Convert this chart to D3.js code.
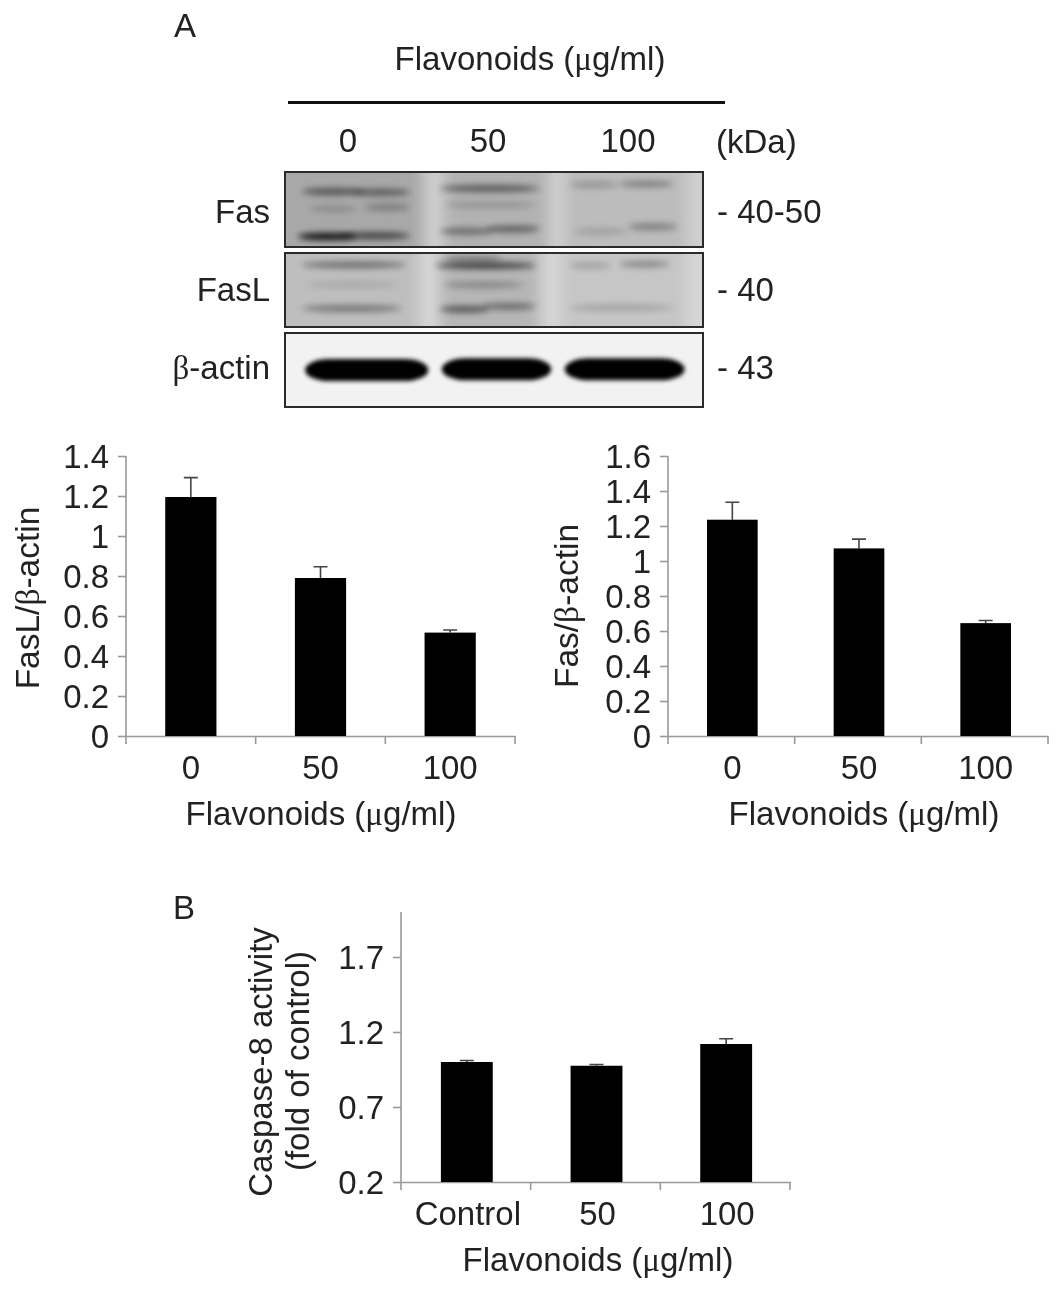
<!DOCTYPE html>
<html><head><meta charset="utf-8">
<script src="https://cdn.jsdelivr.net/npm/d3@7/dist/d3.min.js"></script>
<style>html,body{margin:0;background:#fff}svg{display:block}</style></head>
<body><svg id="c" width="1063" height="1292"></svg>
<script>
const doses=["0","50","100"];
const dosesB=["Control","50","100"];
const faslValues=[1.195,0.79,0.517];
const faslUpper=[1.292,0.846,0.53];
const fasValues=[1.236,1.072,0.645];
const fasUpper=[1.336,1.125,0.66];
const caspValues=[1.0,0.975,1.12];
const caspUpper=[1.01,0.983,1.155];
const faslTicks=[0,0.2,0.4,0.6,0.8,1,1.2,1.4];
const fasTicks=[0,0.2,0.4,0.6,0.8,1,1.2,1.4,1.6];
const caspTicks=[0.2,0.7,1.2,1.7];
// blot bands: [row position 0-1, start 0-1, end 0-1, darkness 0-1]
const fasBands=[[.26,.04,.19,.5],[.27,.16,.30,.46],[.22,.37,.61,.5],[.17,.68,.80,.2],[.16,.80,.93,.3],
[.49,.06,.17,.16],[.47,.19,.30,.26],[.44,.38,.60,.16],
[.86,.03,.17,.95],[.85,.13,.30,.62],[.79,.37,.50,.4],[.76,.48,.61,.46],[.79,.69,.82,.14],[.73,.82,.94,.32]];
const faslBands=[[.16,.04,.29,.42],[.17,.36,.60,.65],[.08,.38,.52,.28],[.17,.68,.78,.18],[.15,.80,.92,.3],
[.43,.38,.57,.26],[.43,.05,.27,.1],
[.75,.04,.28,.38],[.76,.37,.49,.52],[.72,.47,.60,.42],[.74,.68,.93,.17]];
const actinBands=[[.5,.048,.343,1],[.49,.375,.637,1],[.49,.669,.956,1]];
// lane shading: [start 0-1, end 0-1, grey]
const fasShade=[[-.05,.33,"#a8a8a8"],[.38,.63,"#b2b2b2"],[.67,.96,"#bcbcbc"]];
const faslShade=[[-.05,.32,"#bebebe"],[.37,.61,"#b6b6b6"],[.66,.96,"#c6c6c6"]];

const svg=d3.select("#c");
const sans="'Liberation Sans',Arial,sans-serif", ink="#222";
const defs=svg.append("defs");
[["b3",3],["b4",2.2],["soft",.45],["bg",7]].forEach(([id,s])=>defs.append("filter").attr("id",id)
  .attr("x","-30%").attr("y","-300%").attr("width","160%").attr("height","700%")
  .append("feGaussianBlur").attr("stdDeviation",s));

function label(g,x,y,parts,size,anchor="middle",rot=0){
  const t=g.append("text").attr("font-family",sans).attr("font-size",size).attr("fill",ink)
    .attr("text-anchor",anchor).attr("filter","url(#soft)")
    .attr("transform",`translate(${x},${y}) rotate(${rot})`);
  parts.forEach(p=>{const s=t.append("tspan").text(p.t||p);if(p.t)s.attr("font-family","'Liberation Serif',serif")});
  return t;
}
const flav=["Flavonoids (",{t:"\u03bc"},"g/ml)"];

function barChart(o){
  const g=svg.append("g");
  const y=d3.scaleLinear().domain(o.domain).range([o.y0,o.y1]);
  const x=d3.scaleBand().domain(o.cats).range([o.x0+(o.bdx||0),o.x1+(o.bdx||0)]).paddingInner(o.pad).paddingOuter(o.pad/2);
  const yAxis=d3.axisLeft(y).tickValues(o.ticks).tickSize(8).tickFormat(d=>String(d));
  const xAxis=d3.axisBottom(d3.scaleLinear().range([o.x0,o.x1])).tickValues([]).tickSizeOuter(0);
  const ya=g.append("g").attr("transform",`translate(${o.x0},0)`).call(yAxis);
  const xa=g.append("g").attr("transform",`translate(0,${o.y0})`).call(xAxis);
  [ya,xa].forEach(a=>a.selectAll("path,line").attr("stroke","#999").attr("stroke-width",1.6));
  ya.select("path").attr("d",`M0,${o.y0}V${o.top??o.y1}`);
  const step=(o.x1-o.x0)/o.cats.length;
  g.selectAll(".xt").data(d3.range(o.cats.length+1)).join("line")
    .attr("x1",i=>o.x0+i*step).attr("x2",i=>o.x0+i*step).attr("y1",o.y0).attr("y2",o.y0+8)
    .attr("stroke","#999").attr("stroke-width",1.6);
  ya.selectAll("text").attr("font-family",sans).attr("font-size",o.fs).attr("fill",ink).attr("dx",-6).attr("dy","0.35em").attr("filter","url(#soft)");
  g.selectAll(".err").data(o.cats).join("path")
    .attr("d",(c,i)=>{const m=x(c)+x.bandwidth()/2;return `M${m},${y(o.values[i])}V${y(o.upper[i])}M${m-7},${y(o.upper[i])}H${m+7}`})
    .attr("fill","none").attr("stroke","#444").attr("stroke-width",1.6);
  g.selectAll(".bar").data(o.cats).join("rect")
    .attr("x",c=>x(c)).attr("width",x.bandwidth())
    .attr("y",(c,i)=>y(o.values[i])).attr("height",(c,i)=>o.y0-y(o.values[i])).attr("fill","#000");
  o.cats.forEach(c=>label(g,x(c)+x.bandwidth()/2+(o.ldx||0),o.y0+43,[c],o.fs));
  label(g,o.tx,o.y0+89,flav,o.tfs);
  return g;
}
barChart({cats:doses,values:faslValues,upper:faslUpper,domain:[0,1.4],ticks:faslTicks,x0:126,x1:515,y0:736,y1:456,pad:.605,fs:33,tfs:33,tx:321});
label(svg,39,598,["FasL/",{t:"\u03b2"},"-actin"],33.5,"middle",-90);
barChart({cats:doses,values:fasValues,upper:fasUpper,domain:[0,1.6],ticks:fasTicks,x0:668,x1:1048,y0:736,y1:456,pad:.6,fs:33,tfs:33,tx:864,bdx:1});
label(svg,578,606,["Fas/",{t:"\u03b2"},"-actin"],33.5,"middle",-90);
barChart({cats:dosesB,values:caspValues,upper:caspUpper,domain:[0.2,1.7],ticks:caspTicks,x0:401,x1:790,y0:1182,y1:957,top:912,pad:.6,fs:33,tfs:33,tx:598,bdx:1,ldx:1});
label(svg,272,1062,["Caspase-8 activity"],33,"middle",-90);
label(svg,309,1061,["(fold of control)"],33,"middle",-90);

label(svg,185,37,["A"],33);
label(svg,184,919,["B"],33);

const bx=d3.scaleLinear().domain([0,1]).range([285,703]);
function blot(y0,y1,bands,bg,shade,cls){
  const g=svg.append("g");
  const clip="cl"+y0, w=bx(1)-bx(0);
  defs.append("clipPath").attr("id",clip).append("rect").attr("x",bx(0)).attr("y",y0).attr("width",w).attr("height",y1-y0);
  const inner=g.append("g").attr("clip-path",`url(#${clip})`);
  inner.append("rect").attr("x",bx(0)).attr("y",y0).attr("width",w).attr("height",y1-y0).attr("fill",bg);
  inner.selectAll(".d").data(shade).join("rect")
    .attr("x",d=>bx(d[0])).attr("width",d=>bx(d[1])-bx(d[0])).attr("y",y0-20).attr("height",y1-y0+40)
    .attr("fill",d=>d[2]).attr("filter","url(#bg)");
  const ry=d3.scaleLinear().domain([0,1]).range([y0,y1]);
  if(cls==="b4"){
    inner.selectAll(".band").data(bands).join("rect")
      .attr("x",d=>bx(d[1])).attr("width",d=>bx(d[2])-bx(d[1]))
      .attr("y",d=>ry(d[0])-11).attr("height",22).attr("rx",24).attr("ry",11)
      .attr("fill","#000").attr("opacity",d=>d[3]).attr("filter","url(#b4)");
  } else {
    inner.selectAll(".band").data(bands).join("ellipse")
      .attr("cx",d=>bx((d[1]+d[2])/2)).attr("rx",d=>bx(d[2])-bx((d[1]+d[2])/2))
      .attr("cy",d=>ry(d[0])).attr("ry",3.4)
      .attr("fill","#000").attr("opacity",d=>d[3]).attr("filter","url(#b3)");
  }
  g.append("rect").attr("x",bx(0)).attr("y",y0).attr("width",w).attr("height",y1-y0)
    .attr("fill","none").attr("stroke","#2a2a2a").attr("stroke-width",2);
}
blot(172,247,fasBands,"#cfcfcf",fasShade,"b3");
blot(253,327,faslBands,"#d6d6d6",faslShade,"b3");
blot(333,407,actinBands,"#f2f2f2",[],"b4");

label(svg,530,70,flav,33);
svg.append("rect").attr("x",288).attr("y",101).attr("width",437).attr("height",3).attr("fill","#111");
const blotLanes=d3.scalePoint().domain(doses).range([348,628]);
doses.forEach(d=>label(svg,blotLanes(d),152,[d],33));
label(svg,716,153,["(kDa)"],33,"start");
label(svg,270,223,["Fas"],33,"end");
label(svg,270,301,["FasL"],33,"end");
label(svg,270,379,[{t:"\u03b2"},"-actin"],33,"end");
label(svg,717,223,["- 40-50"],33,"start");
label(svg,717,301,["- 40"],33,"start");
label(svg,717,379,["- 43"],33,"start");
</script></body></html>
